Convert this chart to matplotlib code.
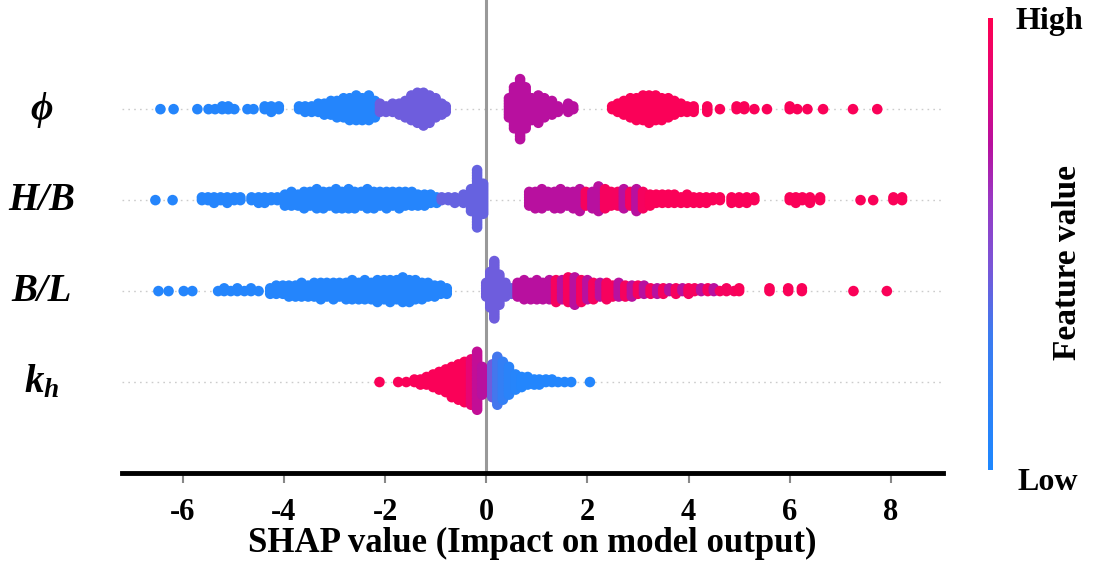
import numpy as np
import matplotlib.pyplot as plt
from matplotlib import transforms
from matplotlib.colors import LinearSegmentedColormap

plt.rcParams['font.family'] = ['Liberation Serif', 'DejaVu Serif']
plt.rcParams['font.weight'] = 'bold'
plt.rcParams['axes.unicode_minus'] = False
plt.rcParams['mathtext.fontset'] = 'custom'
plt.rcParams['mathtext.it'] = 'Liberation Serif:italic:bold'
plt.rcParams['mathtext.rm'] = 'Liberation Serif:bold'

# rows from bottom to top
feature_labels = [r"$k_h$", "B/L", "H/B", "ϕ"]

# each feature: shap value (bin centre), number of stacked dots, feature value (0 low .. 1 high)
kh_shap = [-2.11, -1.74, -1.58, -1.42, -1.30, -1.18, -1.05, -0.93, -0.80, -0.68, -0.55, -0.43, -0.30,
           -0.18, -0.08,
           0.12, 0.22, 0.33, 0.45, 0.58, 0.70, 0.82, 0.95, 1.05, 1.18, 1.30, 1.42, 1.55, 1.68, 2.05]
kh_count = [1, 1, 1, 2, 3, 4, 6, 8, 10, 13, 15, 17, 19,
            24, 12,
            14, 20, 16, 12, 7, 5, 4, 3, 3, 2, 2, 1, 1, 1, 1]
kh_feat = [0.97] * 12 + [0.88] + [0.75, 0.72] + [0.42, 0.32, 0.2, 0.12, 0.08] + [0.05] * 10

bl_shap = [-6.48, -6.28, -5.98, -5.81, -5.30, -5.18, -5.05, -4.92, -4.78, -4.65,
           -4.50, -4.27, -4.15, -4.02, -3.90, -3.77, -3.65, -3.52, -3.40, -3.27,
           -3.15, -3.02, -2.90, -2.77, -2.65, -2.52, -2.40, -2.27, -2.15, -2.02,
           -1.90, -1.77, -1.65, -1.52, -1.40, -1.27, -1.15, -1.02, -0.90, -0.78,
           0.00, 0.08, 0.16, 0.26, 0.38, 0.50,
           0.62, 0.75, 0.88, 1.00, 1.12, 1.25, 1.38, 1.50, 1.62, 1.75,
           1.88, 2.00, 2.12, 2.25, 2.38, 2.50, 2.62, 2.75, 2.88, 3.00,
           3.12, 3.25, 3.38, 3.50, 3.62, 3.75, 3.88, 4.00, 4.12, 4.25,
           4.38, 4.50, 4.62, 4.75, 4.90, 5.00, 5.60, 5.97, 6.24, 7.26, 7.92]
bl_count = [1, 1, 1, 1, 1, 2, 1, 2, 1, 2,
            1, 3, 4, 4, 5, 5, 6, 5, 6, 7,
            6, 7, 6, 7, 8, 7, 8, 7, 9, 8,
            9, 8, 10, 9, 8, 7, 6, 5, 4, 3,
            6, 14, 22, 12, 6, 3,
            6, 8, 7, 8, 7, 8, 9, 8, 10, 11,
            9, 8, 7, 6, 7, 5, 6, 5, 5, 4,
            4, 3, 3, 3, 2, 3, 2, 3, 2, 2,
            2, 2, 1, 2, 1, 2, 2, 2, 2, 1, 1]
bl_feat = ([0.06] * 40 + [0.42] * 6 + [0.72] * 6 +
           [0.95, 0.72, 0.95, 0.72, 0.95, 0.72, 0.95, 0.72, 0.95, 0.95,
            0.72, 0.95, 0.72, 0.95, 0.72, 0.95, 0.72, 0.95, 0.72, 0.95,
            0.72, 0.95, 0.95, 0.72, 0.95, 0.72, 0.95, 0.95, 0.95]
           + [0.97] * 6)

hb_shap = [-6.54, -6.20, -5.62, -5.50, -5.38, -5.25, -5.12, -4.98, -4.86, -4.64,
           -4.50, -4.38, -4.25, -4.13, -3.98, -3.85, -3.72, -3.60, -3.48, -3.35,
           -3.22, -3.10, -2.97, -2.85, -2.72, -2.60, -2.47, -2.35, -2.22, -2.10,
           -1.97, -1.85, -1.72, -1.60, -1.47, -1.35, -1.22, -1.10, -0.98,
           -0.88, -0.75, -0.62, -0.45, -0.30, -0.18, -0.06,
           0.85, 0.97, 1.10, 1.22, 1.35, 1.47, 1.60, 1.72, 1.85,
           1.97, 2.10, 2.22, 2.35, 2.47, 2.60, 2.72, 2.85, 2.97, 3.10,
           3.24, 3.36, 3.48, 3.60, 3.72, 3.85, 3.97, 4.10, 4.22, 4.35,
           4.48, 4.62, 4.85, 5.00, 5.15, 5.30, 6.00, 6.12, 6.25, 6.40,
           6.60, 7.40, 7.65, 8.05, 8.22]
hb_count = [1, 1, 2, 2, 3, 2, 3, 2, 2, 2,
            3, 3, 2, 2, 5, 6, 5, 7, 6, 8,
            7, 6, 8, 7, 8, 7, 6, 8, 7, 6,
            7, 6, 7, 6, 6, 5, 5, 4, 3,
            2, 2, 3, 4, 9, 22, 12,
            6, 7, 8, 6, 7, 8, 6, 7, 9,
            6, 7, 10, 8, 6, 6, 8, 6, 9, 7,
            5, 4, 4, 4, 4, 3, 4, 3, 3, 3,
            2, 2, 3, 3, 3, 2, 2, 3, 2, 3,
            2, 1, 1, 2, 2]
hb_feat = ([0.07] * 39 + [0.4] * 7 + [0.72] * 9 +
           [0.95, 0.72, 0.72, 0.95, 0.95, 0.95, 0.72, 0.95, 0.72, 0.95]
           + [0.97] * 25)

phi_shap = [-6.44, -6.18, -5.71, -5.49, -5.36, -5.22, -5.10, -4.98, -4.72, -4.60,
            -4.38, -4.25, -4.10, -3.70, -3.58, -3.45, -3.32, -3.20, -3.07, -2.95,
            -2.82, -2.70, -2.57, -2.45, -2.32, -2.20,
            -2.10, -1.98, -1.85, -1.72, -1.60, -1.48, -1.36, -1.24, -1.12, -1.00, -0.88, -0.80,
            0.45, 0.55, 0.67, 0.78, 0.90, 1.03, 1.15, 1.30, 1.42, 1.62, 1.72,
            2.49, 2.60, 2.72, 2.85, 2.97, 3.10, 3.22, 3.35, 3.47, 3.60,
            3.72, 3.85, 3.97, 4.10, 4.37, 4.62, 4.95, 5.10, 5.30, 5.55,
            6.00, 6.15, 6.35, 6.66, 7.25, 7.73]
phi_count = [1, 1, 1, 1, 1, 2, 2, 1, 1, 1,
             2, 3, 2, 2, 3, 3, 4, 5, 6, 7,
             8, 9, 10, 9, 10, 7,
             4, 3, 4, 5, 7, 10, 12, 13, 11, 8, 5, 3,
             8, 16, 23, 16, 9, 11, 8, 6, 3, 4, 2,
             2, 4, 6, 8, 9, 10, 11, 10, 9, 8,
             6, 4, 3, 3, 3, 1, 2, 2, 1, 1,
             2, 1, 1, 1, 1, 1]
phi_feat = [0.06] * 26 + [0.42] * 12 + [0.72] * 11 + [0.97] * 26

rows = [(kh_shap, kh_count, kh_feat), (bl_shap, bl_count, bl_feat),
        (hb_shap, hb_count, hb_feat), (phi_shap, phi_count, phi_feat)]

xticks = [-6, -4, -2, 0, 2, 4, 6, 8]

cmap = LinearSegmentedColormap.from_list("red_blue", [
    (0.0, "#1e88ff"), (0.3, "#3d7bf0"), (0.45, "#7a56d8"), (0.6, "#9a38c4"),
    (0.72, "#b8109f"), (0.86, "#e4067a"), (1.0, "#ff0050")])


def swarm_offsets(counts, row_height=0.4):
    # stack dots of a bin alternately above/below the row, like shap's beeswarm
    offsets = []
    for n in counts:
        k = np.arange(n)
        offsets.append(np.ceil(k / 2) * ((k % 2) * 2 - 1))
    top = max(np.max(o) for o in offsets)
    scale = 0.9 * row_height / (top + 1)
    return [o * scale for o in offsets]


fig = plt.figure(figsize=(10.97, 5.76), dpi=100)
ax = fig.add_axes([122 / 1097, 103 / 576, 821 / 1097, 473 / 576])

ax.axvline(0, color="#999999", lw=2.2, zorder=1)
for pos, (shap_vals, counts, feat) in enumerate(rows):
    ax.axhline(pos, color="#cccccc", lw=1.0, dashes=(1.2, 3), zorder=0)
    offs = swarm_offsets(counts)
    xs = np.concatenate([np.full(n, v) for v, n in zip(shap_vals, counts)])
    ys = pos + np.concatenate(offs)
    cs = np.concatenate([np.full(n, f) for f, n in zip(feat, counts)])
    ax.scatter(xs, ys, c=cs, cmap=cmap, vmin=0, vmax=1, s=58, linewidths=0, zorder=3)

ax.set_xlim(-7.2, 9.03)
ax.set_ylim(-1.0, 4.2)
ax.set_yticks([])
for side in ["left", "right", "top"]:
    ax.spines[side].set_visible(False)
ax.spines["bottom"].set_linewidth(3.5)
ax.spines["bottom"].set_color("black")

ax.set_xticks(xticks)
ax.set_xticklabels([str(t) for t in xticks], fontsize=22, fontweight="bold")
ax.tick_params(axis="x", length=7, width=1.5, color="#888888", pad=11)
ax.set_xlabel("SHAP value (Impact on model output)", fontsize=25, fontweight="bold", labelpad=0)

trans = transforms.blended_transform_factory(fig.transFigure, ax.transData)
for pos, lab in enumerate(feature_labels):
    ax.text(42 / 1097, pos, lab, transform=trans, ha="center", va="center",
            fontsize=28, fontweight="bold", fontstyle="italic")

cax = fig.add_axes([988 / 1097, 106 / 576, 5 / 1097, 452 / 576])
cax.imshow(np.linspace(0, 1, 256)[:, None], aspect="auto", cmap=cmap, origin="lower")
cax.axis("off")
fig.text(1015 / 1097, 1 - 22 / 576, "High", ha="left", va="center", fontsize=23, fontweight="bold")
fig.text(1018 / 1097, 1 - 483 / 576, "Low", ha="left", va="center", fontsize=23, fontweight="bold")
fig.text(1068 / 1097, 1 - 262 / 576, "Feature value", ha="center", va="center",
         rotation=90, fontsize=24, fontweight="bold")

fig.savefig("out.png", dpi=100)
